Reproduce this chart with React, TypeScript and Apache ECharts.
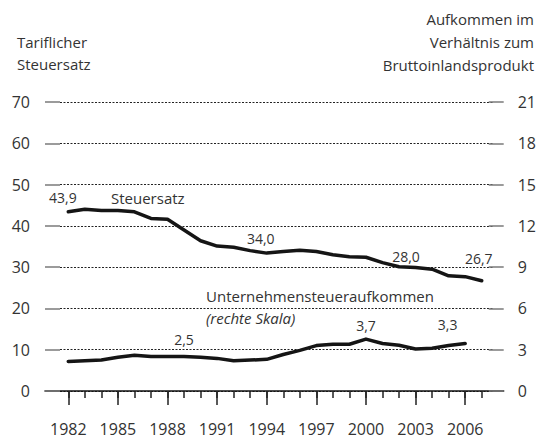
import React, { useEffect, useRef } from 'react';
import * as echarts from 'echarts';

const years = [1982, 1983, 1984, 1985, 1986, 1987, 1988, 1989, 1990, 1991, 1992, 1993, 1994, 1995, 1996, 1997, 1998, 1999, 2000, 2001, 2002, 2003, 2004, 2005, 2006, 2007];
const steuersatz = [43.4, 44.0, 43.7, 43.7, 43.4, 41.8, 41.6, 39.0, 36.4, 35.1, 34.8, 34.0, 33.4, 33.8, 34.1, 33.8, 33.0, 32.5, 32.4, 31.1, 30.1, 29.9, 29.5, 27.9, 27.7, 26.7];
const aufkommenYears = [1982, 1983, 1984, 1985, 1986, 1987, 1988, 1989, 1990, 1991, 1992, 1993, 1994, 1995, 1996, 1997, 1998, 1999, 2000, 2001, 2002, 2003, 2004, 2005, 2006];
const aufkommen = [2.15, 2.2, 2.25, 2.45, 2.6, 2.5, 2.5, 2.5, 2.45, 2.37, 2.2, 2.25, 2.3, 2.65, 2.95, 3.3, 3.4, 3.4, 3.77, 3.45, 3.32, 3.05, 3.1, 3.3, 3.45];
const labelYears = [1982, 1985, 1988, 1991, 1994, 1997, 2000, 2003, 2006];

// annotations: year, text, offset
const steuerNotes = [
  { year: 1983, text: '43,9', dx: -22, dy: -12, bg: false },
  { year: 1994, text: '34,0', dx: -6, dy: -15, bg: false },
  { year: 2002, text: '28,0', dx: 7, dy: -10, bg: false },
  { year: 2007, text: '26,7', dx: -3, dy: -22, bg: true },
];
const aufkNotes = [
  { year: 1989, text: '2,5', dx: 0, dy: -17, bg: true },
  { year: 2000, text: '3,7', dx: 0, dy: -14, bg: false },
  { year: 2005, text: '3,3', dx: -1, dy: -21, bg: false },
];

const FONT = '"Open Sans", "Noto Sans", sans-serif';
const TXT = '#333';

function notePoints(notes: any[], xs: number[], ys: number[]) {
  return notes.map((n) => {
    const i = xs.indexOf(n.year);
    return {
      coord: [xs[i], ys[i]],
      symbol: 'circle',
      symbolSize: 1,
      itemStyle: { color: 'rgba(0,0,0,0)' },
      label: {
        show: true,
        position: 'inside',
        formatter: n.text,
        offset: [n.dx, n.dy],
        color: TXT,
        fontFamily: FONT,
        fontSize: 14,
        backgroundColor: n.bg ? '#fff' : 'transparent',
        padding: n.bg ? [0, 3] : 0,
      },
    };
  });
}

export default function App() {
  const ref = useRef<HTMLDivElement>(null);
  useEffect(() => {
    if (!ref.current) return;
    const chart = echarts.init(ref.current, undefined, { renderer: 'svg' });
    const xMin = 1980.592;
    const xMax = 2008.33;
    const option: any = {
      animation: false,
      backgroundColor: '#fff',
      textStyle: { fontFamily: FONT },
      grid: [
        { left: 45, right: 31, top: 102, bottom: 55, containLabel: false },
        { left: 60, right: 46, top: 102, bottom: 55, containLabel: false },
      ],
      xAxis: [
        {
          type: 'value',
          gridIndex: 0,
          min: xMin,
          max: xMax,
          position: 'bottom',
          z: 1,
          axisLine: { show: true, onZero: false, lineStyle: { color: '#111', width: 1.5 } },
          axisTick: { show: true, length: 7, customValues: years, lineStyle: { color: '#222', width: 1.5 } },
          axisLabel: { show: false },
          splitLine: { show: false },
        },
        {
          type: 'value',
          gridIndex: 0,
          min: xMin,
          max: xMax,
          position: 'bottom',
          z: 1,
          axisLine: { show: false, onZero: false },
          axisTick: { show: true, length: 14, customValues: labelYears, lineStyle: { color: '#222', width: 1.5 } },
          axisLabel: {
            show: true,
            customValues: labelYears,
            formatter: (v: number) => String(Math.round(v)),
            margin: 30,
            color: TXT,
            fontSize: 16,
            fontFamily: FONT,
          },
          splitLine: { show: false },
        },
        {
          type: 'value',
          gridIndex: 1,
          min: 0,
          max: 1,
          show: false,
        },
      ],
      yAxis: [
        {
          type: 'value',
          gridIndex: 0,
          position: 'left',
          min: 0,
          max: 70,
          interval: 10,
          z: 1,
          axisLine: { show: false },
          axisTick: { show: true, inside: true, length: 15, lineStyle: { color: '#7a7a7a', width: 1.5 } },
          axisLabel: { margin: 15, color: TXT, fontSize: 16, fontFamily: FONT },
          splitLine: { show: false },
        },
        {
          type: 'value',
          gridIndex: 0,
          position: 'right',
          min: 0,
          max: 21,
          interval: 3,
          z: 1,
          axisLine: { show: false },
          axisTick: { show: true, inside: true, length: 15, lineStyle: { color: '#7a7a7a', width: 1.5 } },
          axisLabel: { margin: 14, color: TXT, fontSize: 16, fontFamily: FONT },
          splitLine: { show: false },
        },
        {
          type: 'value',
          gridIndex: 1,
          position: 'left',
          min: 0,
          max: 70,
          interval: 10,
          z: 0,
          axisLine: { show: false },
          axisTick: { show: false },
          axisLabel: { show: false },
          splitLine: { show: true, lineStyle: { color: '#222', width: 1, type: [2, 1.5] } },
        },
      ],
      series: [
        {
          name: 'Steuersatz',
          type: 'line',
          xAxisIndex: 0,
          yAxisIndex: 0,
          data: years.map((y, i) => [y, steuersatz[i]]),
          showSymbol: false,
          symbol: 'none',
          z: 3,
          lineStyle: { color: '#151515', width: 3.5, cap: 'round', join: 'round' },
          markPoint: { silent: true, data: notePoints(steuerNotes, years, steuersatz) },
        },
        {
          name: 'Unternehmensteueraufkommen',
          type: 'line',
          xAxisIndex: 0,
          yAxisIndex: 1,
          data: aufkommenYears.map((y, i) => [y, aufkommen[i]]),
          showSymbol: false,
          symbol: 'none',
          z: 3,
          lineStyle: { color: '#151515', width: 3.5, cap: 'round', join: 'round' },
          markPoint: { silent: true, data: notePoints(aufkNotes, aufkommenYears, aufkommen) },
        },
      ],
      graphic: [
        {
          type: 'text',
          left: 17,
          top: 31,
          style: { text: 'Tariflicher\nSteuersatz', fill: TXT, font: `15px ${FONT}`, lineHeight: 22 },
        },
        {
          type: 'text',
          x: 534,
          y: 7,
          style: { text: 'Aufkommen im\nVerhältnis zum\nBruttoinlandsprodukt', fill: TXT, font: `15px ${FONT}`, lineHeight: 23, align: 'right', verticalAlign: 'top' },
        },
        {
          type: 'text',
          left: 111,
          top: 190,
          style: { text: 'Steuersatz', fill: TXT, font: `15px ${FONT}` },
        },
        {
          type: 'text',
          left: 206,
          top: 288,
          style: { text: 'Unternehmensteueraufkommen', fill: TXT, font: `15px ${FONT}` },
        },
        {
          type: 'text',
          left: 206,
          top: 310,
          style: { text: '(rechte Skala)', fill: TXT, font: `italic 15px ${FONT}` },
        },
      ],
    };
    chart.setOption(option);
    return () => chart.dispose();
  }, []);
  return <div ref={ref} style={{ position: 'absolute', left: 0, top: 0, width: 539, height: 446 }} />;
}
